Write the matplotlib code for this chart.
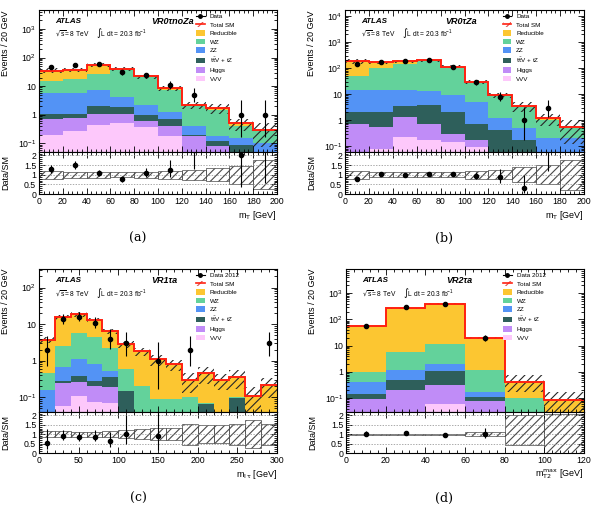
import numpy as np
import matplotlib
matplotlib.use("Agg")
import matplotlib.pyplot as plt
from matplotlib.ticker import FixedLocator, MultipleLocator, LogLocator, FuncFormatter, NullFormatter
from matplotlib.patches import Patch
from matplotlib.lines import Line2D

plt.rcParams['font.family'] = ['Liberation Sans', 'DejaVu Sans']
plt.rcParams['hatch.linewidth'] = 0.8
plt.rcParams['mathtext.default'] = 'regular'

W, H = 595, 511

colors = {'Reducible': '#fcc631', 'WZ': '#63d29b', 'ZZ': '#5393f5',
          'ttV': '#2e5f5b', 'Higgs': '#c08cf7', 'VVV': '#fdc8fb'}

# ---- (a) VR0tau noZa, mT
edges_a = np.arange(0, 201, 20)
vvv_a = [0.2, 0.28, 0.44, 0.5, 0.38, 0.18, 0.02, 0.02, 0.01, 0.01]
higgs_a = [0.54, 0.51, 0.59, 0.6, 0.25, 0.22, 0.16, 0.06, 0.02, 0.01]
ttv_a = [0.31, 0.29, 0.97, 0.8, 0.37, 0.29, 0.02, 0.04, 0.06, 0.03]
zz_a = [4.95, 4.72, 5.6, 2.35, 1.2, 0.61, 0.22, 0.06, 0.06, 0.05]
wz_a = [9.0, 12.7, 20.0, 31.75, 18.4, 6.3, 1.68, 1.32, 0.25, 0.17]
red_a = [20.0, 19.5, 27.4, 4.0, 1.4, 1.1, 0.1, 0.2, 0.1, 0.02]
data_a = [45, 57, 60, 31, 24, 11, 5, 0, 1, 1]
unc_up_a = [0.2, 0.16, 0.15, 0.14, 0.16, 0.2, 0.27, 0.35, 0.47, 0.75]
unc_dn_a = [0.2, 0.16, 0.15, 0.14, 0.16, 0.2, 0.27, 0.35, 0.47, 0.75]

# ---- (b) VR0tau Za, mT
edges_b = np.arange(0, 201, 20)
vvv_b = [0.03, 0.08, 0.23, 0.18, 0.15, 0.09, 0.005, 0.005, 0.005, 0.005]
higgs_b = [0.67, 0.47, 1.11, 0.52, 0.15, 0.08, 0.005, 0.005, 0.005, 0.005]
ttv_b = [1.4, 1.55, 2.11, 3.1, 1.8, 0.57, 0.4, 0.16, 0.03, 0.02]
zz_b = [11.9, 11.9, 11.55, 9.6, 7.1, 4.26, 0.75, 0.31, 0.16, 0.17]
wz_b = [35, 83, 135, 181.6, 100.8, 24, 7.84, 2.82, 0.85, 0.28]
red_b = [137, 69, 36, 8, 2, 1, 0.1, 0.15, 0.11, 0.07]
data_b = [145, 170, 185, 210, 115, 28, 8, 1, 3, 0]
unc_up_b = [0.2, 0.13, 0.13, 0.12, 0.13, 0.2, 0.22, 0.4, 0.48, 0.77]
unc_dn_b = [0.2, 0.13, 0.13, 0.12, 0.13, 0.2, 0.22, 0.4, 0.48, 0.77]

# ---- (c) VR1tau a, m_ltau
edges_c = np.arange(0, 301, 20)
vvv_c = [0.001, 0.06, 0.107, 0.073, 0.07, 0.005, 0.002, 0.001, 0.001, 0.001, 0.001, 0.001, 0.001, 0.001, 0.001]
higgs_c = [0.001, 0.18, 0.153, 0.137, 0.12, 0.005, 0.002, 0.001, 0.001, 0.001, 0.001, 0.001, 0.001, 0.001, 0.001]
ttv_c = [0.001, 0.04, 0.13, 0.07, 0.18, 0.136, 0.026, 0.002, 0.002, 0.002, 0.065, 0.002, 0.096, 0.002, 0.002]
zz_c = [0.157, 0.39, 0.74, 0.55, 0.17, 0.004, 0.005, 0.003, 0.003, 0.003, 0.001, 0.003, 0.001, 0.002, 0.002]
wz_c = [0.3, 1.79, 4.77, 3.57, 1.66, 0.45, 0.165, 0.085, 0.083, 0.093, 0.001, 0.013, 0.001, 0.002, 0.002]
red_c = [3.24, 13.0, 12.8, 8.2, 4.1, 2.3, 1.6, 1.0, 0.72, 0.2, 0.39, 0.28, 0.27, 0.1, 0.21]
data_c = [2, 14, 16, 11, 4, 3, 0, 1, 0, 2, 0, 0, 0, 0, 3]
unc_up_c = [0.17, 0.15, 0.14, 0.14, 0.15, 0.22, 0.25, 0.33, 0.33, 0.56, 0.48, 0.48, 0.55, 0.75, 0.56]
unc_dn_c = [0.17, 0.15, 0.14, 0.14, 0.15, 0.22, 0.25, 0.33, 0.33, 0.56, 0.48, 0.48, 0.55, 0.75, 0.56]

# ---- (d) VR2tau a, mT2max
edges_d = np.arange(0, 121, 20)
vvv_d = [0.001, 0.001, 0.063, 0.001, 0.001, 0.001]
higgs_d = [0.096, 0.209, 0.267, 0.076, 0.001, 0.001]
ttv_d = [0.053, 0.27, 0.76, 0.033, 0.001, 0.001]
zz_d = [0.25, 0.74, 0.98, 0.06, 0.001, 0.001]
wz_d = [0.6, 4.38, 9.43, 0.99, 0.096, 0.001]
red_d = [56, 256.4, 388.5, 18.34, 0.3, 0.079]
data_d = [58, 285, 390, 20, 0, 0]
unc_up_d = [0.03, 0.02, 0.02, 0.1, 1.0, 1.1]
unc_dn_d = [0.03, 0.02, 0.02, 0.1, 0.55, 0.99]

leg_labels = ['Reducible', 'WZ', 'ZZ', r'$\mathrm{t\bar{t}}$V + tZ', 'Higgs', 'VVV']


def log_fmt(v, pos):
    e = int(round(np.log10(v)))
    if e == 0:
        return '1'
    if e == 1:
        return '10'
    return r'$10^{%d}$' % e


def poisson_err(n):
    # Gehrels approximation of the 68% Poisson interval
    n = np.asarray(n, float)
    up = np.sqrt(n + 0.75) + 1.0
    lo = n - n * (1 - 1 / (9 * n) - 1 / (3 * np.sqrt(n))) ** 3
    return lo, up


def style(ax, xmajor, xminor):
    ax.tick_params(which='both', direction='in', top=True, right=True, labelsize=6.3, pad=2, width=0.6)
    ax.tick_params(which='major', length=4)
    ax.tick_params(which='minor', length=2)
    ax.xaxis.set_major_locator(MultipleLocator(xmajor))
    ax.xaxis.set_minor_locator(MultipleLocator(xminor))
    for s in ax.spines.values():
        s.set_linewidth(0.8)


def panel(x0, y0, w, hm, hr, edges, comps, data, up, dn, ylim, xmajor, xminor,
          xlabel, region, region_x, data_label, caption, cap_xy):
    axm = fig.add_axes([x0 / W, 1 - (y0 + hm) / H, w / W, hm / H])
    axr = fig.add_axes([x0 / W, 1 - (y0 + hm + hr) / H, w / W, hr / H], sharex=axm)
    comps = [np.asarray(c, float) for c in comps]
    up = np.asarray(up)
    dn = np.asarray(dn)
    data = np.asarray(data, float)
    centers = 0.5 * (edges[1:] + edges[:-1])
    widths = np.diff(edges)

    # stack, bottom to top: VVV, Higgs, ttV, ZZ, WZ, Reducible
    keys = ['VVV', 'Higgs', 'ttV', 'ZZ', 'WZ', 'Reducible']
    base = np.full(len(centers), 1e-4)
    for k, c in zip(keys, comps):
        top = base + c
        axm.stairs(top, edges, baseline=base, fill=True, color=colors[k], lw=0)
        base = top
    total = base
    axm.bar(edges[:-1], total * (up + dn), bottom=total * (1 - dn), width=widths, align='edge',
            facecolor='none', hatch='////', edgecolor='#262626', lw=0)
    axm.stairs(total, edges, baseline=None, color='#ff2010', lw=1.4)

    m = data > 0
    lo, hi = poisson_err(data[m])
    axm.errorbar(centers[m], data[m], yerr=[lo, hi], fmt='o', color='k', ms=3, lw=0.8, capsize=0)

    axm.set_yscale('log')
    axm.set_ylim(*ylim)
    axm.set_xlim(edges[0], edges[-1])
    style(axm, xmajor, xminor)
    axm.yaxis.set_major_locator(LogLocator(base=10, numticks=15))
    axm.yaxis.set_minor_locator(LogLocator(base=10, subs=np.arange(2, 10), numticks=15))
    axm.yaxis.set_major_formatter(FuncFormatter(log_fmt))
    axm.yaxis.set_minor_formatter(NullFormatter())
    axm.tick_params(labelbottom=False)
    axm.set_ylabel('Events / 20 GeV', fontsize=6.5, loc='top')
    axm.yaxis.set_label_coords(-0.12, 1.0)

    axm.text(0.067, 0.92, 'ATLAS', transform=axm.transAxes, fontsize=5.8, fontweight='bold',
             style='italic', va='center')
    axm.text(0.067, 0.835, r'$\sqrt{s}$= 8 TeV', transform=axm.transAxes, fontsize=4.8, va='center')
    axm.text(0.24, 0.835, r'$\int$L dt = 20.3 fb$^{-1}$', transform=axm.transAxes, fontsize=4.8,
             va='center')
    axm.text(region_x, 0.92, region, transform=axm.transAxes, fontsize=6.5, fontweight='bold',
             style='italic', va='center')

    handles = [Line2D([], [], color='k', marker='o', ms=2.5, lw=0.8),
               (Patch(facecolor='none', edgecolor='#e05050', hatch='////', lw=0),
                Line2D([], [], color='#ff2010', lw=1.2))]
    for k in reversed(keys):
        handles.append(Patch(facecolor=colors[k], lw=0))
    labels = [data_label, 'Total SM'] + leg_labels
    axm.legend(handles, labels, loc='upper left', bbox_to_anchor=(0.655, 0.985), fontsize=4.5,
               frameon=False, handlelength=1.35, handleheight=1.0, handletextpad=0.8,
               labelspacing=0.4, borderaxespad=0, borderpad=0.2)

    # ratio panel
    axr.bar(edges[:-1], up + dn, bottom=1 - dn, width=widths, align='edge', facecolor='none',
            hatch='////', edgecolor='#4a4a4a', lw=0.5)
    for yv in [0.5, 1.0, 1.5, 2.0]:
        axr.axhline(yv, color='#888888', ls=(0, (2, 2)), lw=0.5)
    axr.errorbar(centers[m], data[m] / total[m], yerr=[lo / total[m], hi / total[m]], fmt='o',
                 color='k', ms=3, lw=0.8, capsize=0)
    axr.set_ylim(0, 2.18)
    style(axr, xmajor, xminor)
    axr.yaxis.set_major_locator(FixedLocator([0, 0.5, 1, 1.5, 2]))
    axr.yaxis.set_major_formatter(FuncFormatter(lambda v, p: '%g' % v))
    axr.yaxis.set_minor_locator(MultipleLocator(0.1))
    axr.set_xlim(edges[0], edges[-1])
    axr.set_ylabel('Data/SM', fontsize=6.5)
    axr.yaxis.set_label_coords(-0.12, 0.5)
    axr.set_xlabel(xlabel, fontsize=6.5, loc='right', labelpad=2)

    fig.text(cap_xy[0] / W, 1 - cap_xy[1] / H, caption, fontsize=9, family='DejaVu Serif',
             ha='center', va='center')


fig = plt.figure(figsize=(W / 100, H / 100), dpi=100)

panel(39, 10, 238, 142, 42, edges_a, [vvv_a, higgs_a, ttv_a, zz_a, wz_a, red_a], data_a,
      unc_up_a, unc_dn_a, (0.05, 4600), 20, 4, r'm$_{\mathrm{T}}$ [GeV]', 'VR0τnoZa', 0.47,
      'Data', '(a)', (138, 238))
panel(345, 10, 239, 142, 42, edges_b, [vvv_b, higgs_b, ttv_b, zz_b, wz_b, red_b], data_b,
      unc_up_b, unc_dn_b, (0.06, 17000), 20, 4, r'm$_{\mathrm{T}}$ [GeV]', 'VR0τZa', 0.42,
      'Data', '(b)', (444, 238))
panel(39, 269, 238, 143, 41, edges_c, [vvv_c, higgs_c, ttv_c, zz_c, wz_c, red_c], data_c,
      unc_up_c, unc_dn_c, (0.04, 320), 50, 10, r'm$_{\mathrm{l\,\tau}}$ [GeV]', 'VR1τa', 0.47,
      'Data 2012', '(c)', (138, 498))
panel(346, 269, 238, 143, 41, edges_d, [vvv_d, higgs_d, ttv_d, zz_d, wz_d, red_d], data_d,
      unc_up_d, unc_dn_d, (0.03, 8300), 20, 4, r'm$_{\mathrm{T2}}^{\mathrm{max}}$ [GeV]', 'VR2τa', 0.42,
      'Data 2012', '(d)', (444, 498))

fig.savefig('out.png', dpi=100)
